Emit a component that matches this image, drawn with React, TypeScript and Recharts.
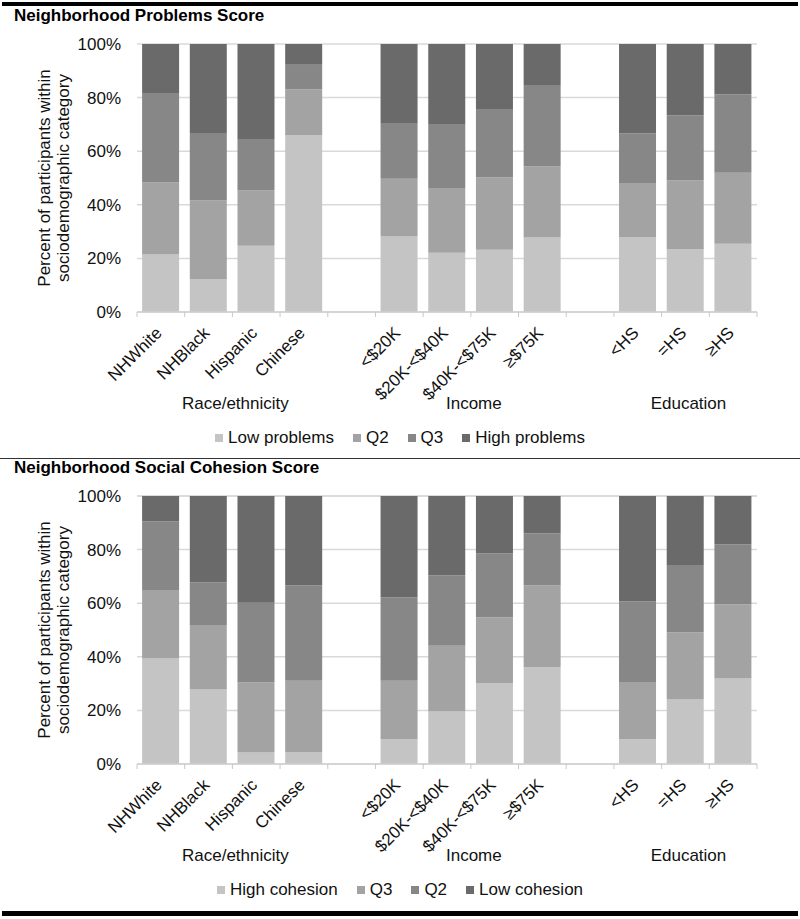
import React from 'react';
import { BarChart, Bar, XAxis, YAxis, CartesianGrid, Label } from 'recharts';

const categories = ['NHWhite', 'NHBlack', 'Hispanic', 'Chinese', '', '<$20K', '$20K-<$40K', '$40K-<$75K', '≥$75K', ' ', '<HS', '=HS', '≥HS'];
const groupLabels = ['Race/ethnicity', 'Income', 'Education'];
const groupSpans = [[0, 3], [5, 8], [10, 12]];
const yTicks = [0, 20, 40, 60, 80, 100];

// Neighborhood problems score, % per category (gaps are null)
const problemsNames = ['Low problems', 'Q2', 'Q3', 'High problems'];
const problemsLow = [21.5, 12.3, 24.7, 66.0, null, 28.2, 22.1, 23.2, 27.8, null, 28.0, 23.5, 25.5];
const problemsQ2 = [26.8, 29.3, 20.6, 17.0, null, 21.5, 24.2, 27.0, 26.5, null, 20.1, 25.6, 26.5];
const problemsQ3 = [33.1, 25.2, 19.0, 9.3, null, 20.5, 23.6, 25.3, 30.4, null, 18.5, 24.2, 29.2];
const problemsHigh = [18.6, 33.2, 35.7, 7.7, null, 29.8, 30.1, 24.5, 15.3, null, 33.4, 26.7, 18.8];

// Neighborhood social cohesion score
const cohesionNames = ['High cohesion', 'Q3', 'Q2', 'Low cohesion'];
const cohesionHigh = [39.4, 27.8, 4.3, 4.5, null, 9.3, 19.6, 30.2, 36.2, null, 9.2, 24.1, 31.9];
const cohesionQ3 = [25.5, 24.1, 26.1, 26.6, null, 21.8, 24.5, 24.6, 30.4, null, 21.4, 25.1, 27.6];
const cohesionQ2 = [25.6, 15.8, 29.8, 35.6, null, 31.1, 26.2, 23.8, 19.4, null, 30.1, 25.1, 22.5];
const cohesionLow = [9.5, 32.3, 39.8, 33.3, null, 37.8, 29.7, 21.4, 14.0, null, 39.3, 25.7, 18.0];

const grays = ['#c4c4c4', '#a3a3a3', '#878787', '#6a6a6a'];

const FONT = "'Liberation Sans', Arial, Helvetica, sans-serif";
const W = 800;
const PANEL_H = 460;
const PLOT_LEFT = 137;
const PLOT_RIGHT = 757;
const PLOT_TOP = 44;
const PLOT_BOTTOM = 312;
const BAND = (PLOT_RIGHT - PLOT_LEFT) / categories.length;

function XTick(props: any) {
  const { x, y, payload, index } = props;
  const label = String(payload.value).trim();
  const half = BAND / 2;
  const tx = x + 2;
  const ty = y + 22;
  return (
    <g>
      <line x1={x - half} y1={y} x2={x - half} y2={y + 5} stroke="#c8c8c8" strokeWidth={1} />
      {index === categories.length - 1 && (
        <line x1={x + half} y1={y} x2={x + half} y2={y + 5} stroke="#c8c8c8" strokeWidth={1} />
      )}
      {label && (
        <text x={tx} y={ty} transform={`rotate(-45 ${tx} ${ty})`} textAnchor="end"
          fontSize={17} fontFamily={FONT} fill="#111">
          {label}
        </text>
      )}
    </g>
  );
}

function YTitle(props: any) {
  const vb = props.viewBox || { y: PLOT_TOP, height: PLOT_BOTTOM - PLOT_TOP };
  const cy = vb.y + vb.height / 2;
  return (
    <g>
      <text x={50} y={cy} transform={`rotate(-90 50 ${cy})`} textAnchor="middle" fontSize={17} fontFamily={FONT} fill="#111">
        Percent of participants within
      </text>
      <text x={68.5} y={cy} transform={`rotate(-90 68.5 ${cy})`} textAnchor="middle" fontSize={17} fontFamily={FONT} fill="#111">
        sociodemographic category
      </text>
    </g>
  );
}

function Panel({ top, title, names, series }: { top: number; title: string; names: string[]; series: (number | null)[][] }) {
  const data = categories.map((c, i) => {
    const row: any = { cat: c };
    series.forEach((s, k) => { row['s' + k] = s[i]; });
    return row;
  });

  return (
    <div style={{ position: 'absolute', left: 0, top, width: W, height: PANEL_H, fontFamily: FONT }}>
      <div style={{ position: 'absolute', left: 14, top: 6, fontSize: 17, lineHeight: '20px', fontWeight: 'bold', color: '#000', whiteSpace: 'nowrap' }}>
        {title}
      </div>
      <BarChart width={W} height={PANEL_H} data={data} margin={{ top: PLOT_TOP, right: W - PLOT_RIGHT, bottom: 0, left: 0 }}
        barCategoryGap="10.7%">
        <CartesianGrid vertical={false} stroke="#d9d9d9" strokeWidth={1.5} />
        <XAxis dataKey="cat" interval={0} height={PANEL_H - PLOT_BOTTOM} tickLine={false} tickSize={0} tickMargin={0}
          axisLine={{ stroke: '#d0d0d0', strokeWidth: 1.5 }} tick={<XTick />} />
        <YAxis type="number" domain={[0, 100]} ticks={yTicks} width={PLOT_LEFT} axisLine={false} tickLine={false}
          tickSize={0} tickMargin={16} tickFormatter={(v: number) => `${v}%`}
          tick={{ fontSize: 17, fill: '#111', fontFamily: FONT }}>
          <Label content={<YTitle />} />
        </YAxis>
        {series.map((_, k) => (
          <Bar key={k} dataKey={'s' + k} name={names[k]} stackId="a" fill={grays[k]} isAnimationActive={false} />
        ))}
      </BarChart>
      {groupLabels.map((g, i) => {
        const mid = (groupSpans[i][0] + groupSpans[i][1]) / 2;
        const cx = PLOT_LEFT + BAND * (mid + 0.5) + 3;
        return (
          <div key={g} style={{ position: 'absolute', left: cx - 100, width: 200, top: 394, textAlign: 'center', fontSize: 17, lineHeight: '20px', color: '#111' }}>
            {g}
          </div>
        );
      })}
      <div style={{ position: 'absolute', left: 0, width: W, top: 428, display: 'flex', justifyContent: 'center', alignItems: 'center', fontSize: 17, lineHeight: '20px', color: '#111' }}>
        {names.map((n, k) => (
          <div key={n + k} style={{ display: 'flex', alignItems: 'center', marginRight: k < names.length - 1 ? 19 : 0 }}>
            <span style={{ display: 'inline-block', width: 8, height: 8, background: grays[k], marginRight: 5 }} />
            <span>{n}</span>
          </div>
        ))}
      </div>
    </div>
  );
}

export default function App() {
  return (
    <div style={{ position: 'absolute', left: 0, top: 0, width: W, height: 919, background: '#fff', overflow: 'hidden' }}>
      <div style={{ position: 'absolute', left: 2, top: 1.5, width: 796, height: 4, background: '#000' }} />
      <Panel top={0} title="Neighborhood Problems Score" names={problemsNames}
        series={[problemsLow, problemsQ2, problemsQ3, problemsHigh]} />
      <div style={{ position: 'absolute', left: 0, top: 457.5, width: W, height: 1.5, background: '#333' }} />
      <Panel top={452} title="Neighborhood Social Cohesion Score" names={cohesionNames}
        series={[cohesionHigh, cohesionQ3, cohesionQ2, cohesionLow]} />
      <div style={{ position: 'absolute', left: 2, top: 911, width: 796, height: 5, background: '#000' }} />
    </div>
  );
}
